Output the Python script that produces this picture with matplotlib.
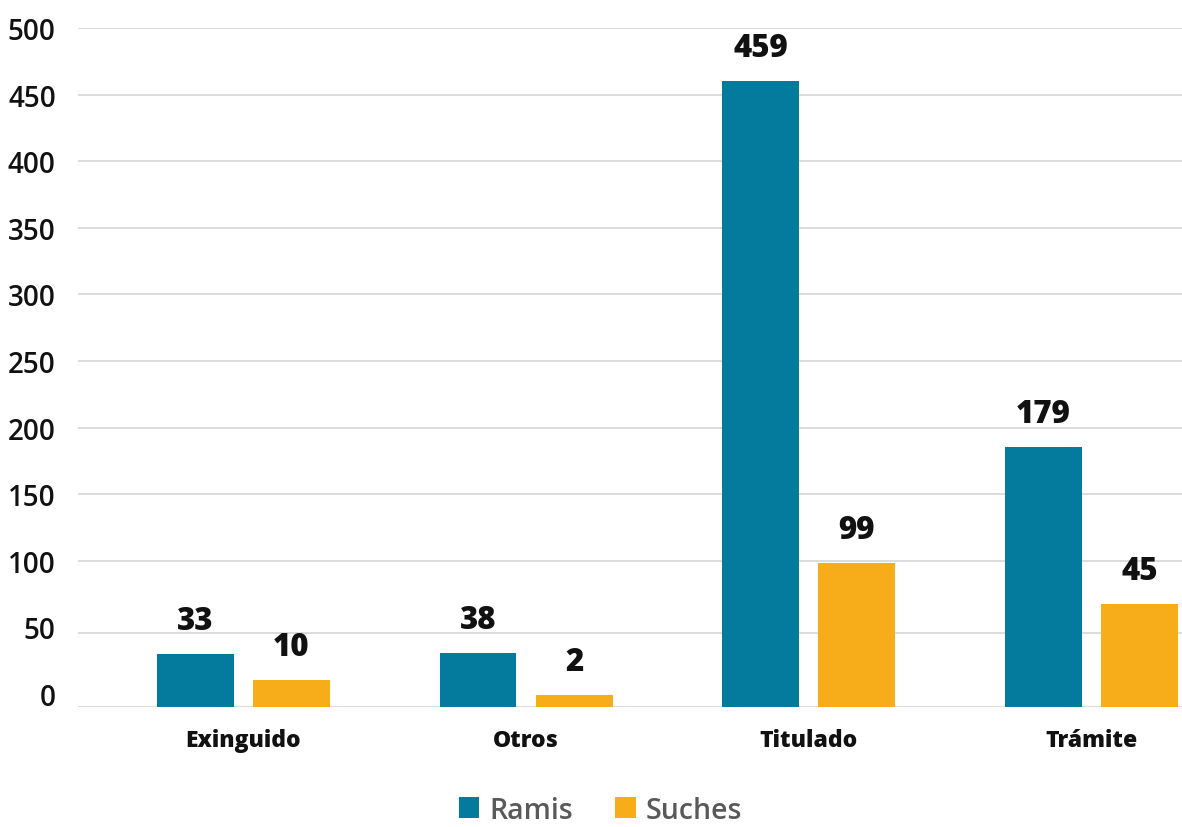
import matplotlib
matplotlib.use("Agg")
import matplotlib.pyplot as plt
import numpy as np
from matplotlib.patches import Patch

plt.rcParams['font.family'] = ['Open Sans', 'DejaVu Sans']

categories = ["Exinguido", "Otros", "Titulado", "Trámite"]
series_names = ["Ramis", "Suches"]
# bar tops (axis units)
ramis_values = [30.0, 30.7, 460.2, 185.5]
suches_values = [10.4, -0.8, 98.3, 67.4]
# data labels as printed on the chart
ramis_labels = ["33", "38", "459", "179"]
suches_labels = ["10", "2", "99", "45"]
ytick_values = [0, 50, 100, 150, 200, 250, 300, 350, 400, 450, 500]
grid_levels = [-9.6, 45.8, 100, 150, 200, 250, 300, 350, 400, 450, 500]

colors = ["#047A9C", "#F7AD19"]

W, H = 1182, 828
fig = plt.figure(figsize=(W / 100, H / 100), dpi=100)
left, right, top, bottom = 78, 1182, 29, 707.7
ax = fig.add_axes([left / W, 1 - bottom / H, (right - left) / W, (bottom - top) / H])

floor = -9.6
x = np.arange(len(categories))
width = 0.272
off = 0.17

for i, (vals, labs) in enumerate([(ramis_values, ramis_labels), (suches_values, suches_labels)]):
    xs = x + (-off if i == 0 else off)
    v = np.array(vals)
    ax.bar(xs, v - floor, bottom=floor, width=width, color=colors[i], zorder=3)
    for xi, vi, lab in zip(xs, v, labs):
        ax.annotate(lab, (xi, vi), xytext=(0, 24), textcoords="offset points",
                    ha="center", va="center", fontsize=22.5, fontweight="heavy",
                    color="#111111", zorder=4)

for g in grid_levels:
    ax.axhline(g, color="#D9D9D9", lw=1.3, zorder=1)

ax.set_xlim(-0.585, 3.32)
ax.set_ylim(floor, 500)
ax.set_yticks(ytick_values)
ax.set_yticklabels([str(t) for t in ytick_values], fontsize=20, fontweight="semibold",
                   color="#111111")
ax.set_xticks(x)
ax.set_xticklabels(categories, fontsize=16.5, fontweight="heavy", color="#111111")
ax.tick_params(axis="y", length=0, pad=16)
ax.tick_params(axis="x", length=0, pad=15)
for s in ax.spines.values():
    s.set_visible(False)

handles = [Patch(facecolor=c, edgecolor="none") for c in colors]
leg = fig.legend(handles, series_names, loc="lower center", bbox_to_anchor=(0.508, -0.028),
                 ncol=2, frameon=False, handlelength=0.72, handleheight=0.72,
                 handletextpad=0.35, columnspacing=1.5,
                 prop={"size": 20.5, "weight": "semibold"})
for t in leg.get_texts():
    t.set_color("#595959")

fig.savefig("out.png", dpi=100)
